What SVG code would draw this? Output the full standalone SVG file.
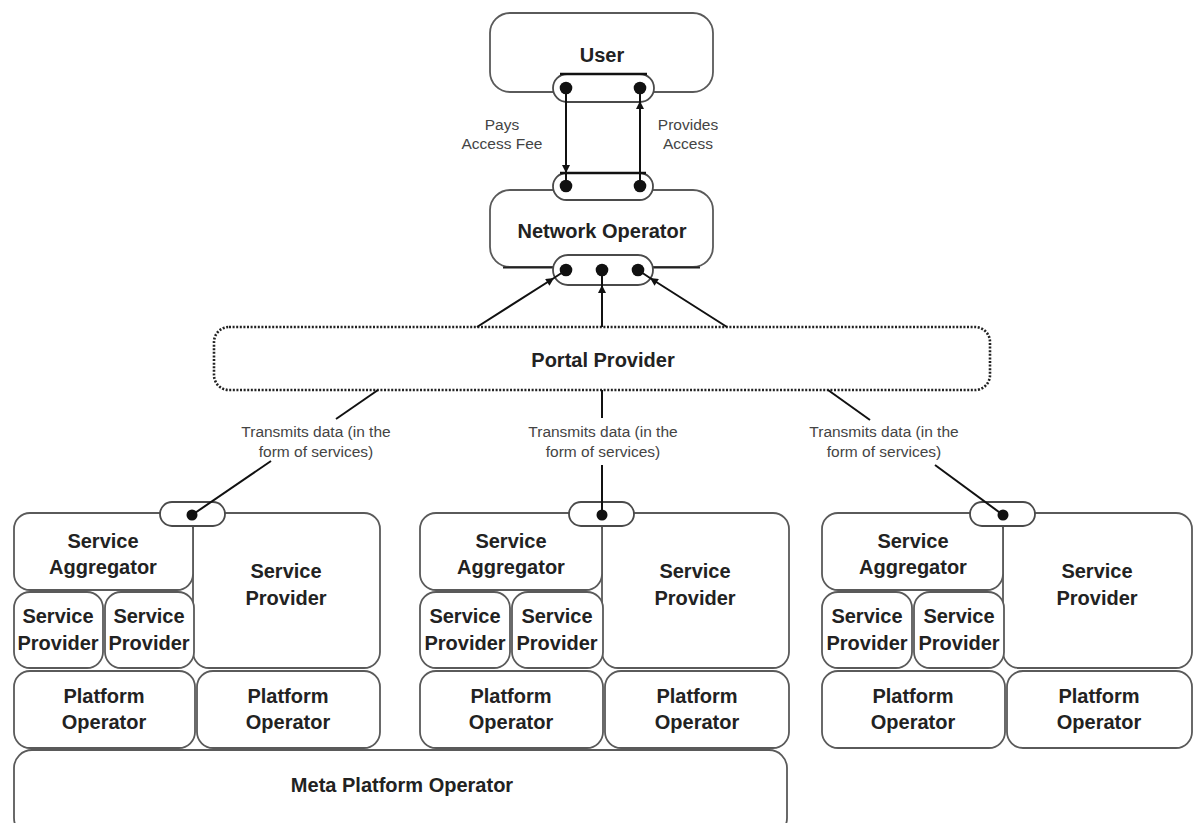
<svg xmlns="http://www.w3.org/2000/svg" width="1197" height="823" viewBox="0 0 1197 823">
  <style>
    .box { fill: #fff; stroke: #5a5a5a; stroke-width: 1.8; }
    .pill { fill: #fff; stroke: #4a4a4a; stroke-width: 1.8; }
    .dotted { fill: #fff; stroke: #222; stroke-width: 2.6; stroke-dasharray: 2 1.6; }
    .dot { fill: #111; }
    .wire { fill: none; stroke: #111; stroke-width: 2; }
    .t { font-family: "Liberation Sans", Arial, sans-serif; font-weight: bold; font-size: 20px; fill: #222; text-anchor: middle; }
    .lbl { font-family: "Liberation Sans", Arial, sans-serif; font-size: 15.5px; fill: #444; text-anchor: middle; }
  </style>
  <defs>
    <marker id="head" viewBox="0 0 10 10" refX="10" refY="5" markerUnits="userSpaceOnUse" markerWidth="10" markerHeight="8" orient="auto">
      <path d="M0,0 L10,5 L0,10 z" fill="#111"/>
    </marker>
  </defs>

  <rect width="1197" height="823" fill="#fff"/>

  <!-- User -->
  <g id="user">
    <rect class="box" x="490" y="13" width="223" height="79" rx="20"/>
    <text class="t" x="602" y="62">User</text>
    <rect class="pill" x="553" y="74" width="101" height="28" rx="14"/>
    <line x1="560" y1="74" x2="647" y2="74" stroke="#111" stroke-width="2.4"/>
    <circle class="dot" cx="566" cy="88" r="6.3"/>
    <circle class="dot" cx="640" cy="88" r="6.3"/>
  </g>

  <!-- Network Operator -->
  <g id="network-operator">
    <rect class="box" x="490" y="190" width="223" height="77" rx="20"/>
    <line x1="503" y1="267.5" x2="700" y2="267.5" stroke="#222" stroke-width="2"/>
    <text class="t" x="602" y="238">Network Operator</text>
    <rect class="pill" x="553" y="173" width="100" height="27" rx="13.5"/>
    <line x1="560" y1="173" x2="646" y2="173" stroke="#111" stroke-width="2.4"/>
    <circle class="dot" cx="566" cy="186" r="6.3"/>
    <circle class="dot" cx="640" cy="186" r="6.3"/>
    <rect class="pill" x="553" y="255" width="100" height="30" rx="15"/>
    <circle class="dot" cx="566" cy="270" r="6.3"/>
    <circle class="dot" cx="602" cy="270" r="6.3"/>
    <circle class="dot" cx="638" cy="270" r="6.3"/>
  </g>

  <!-- Portal Provider -->
  <g id="portal-provider">
    <rect class="dotted" x="214" y="327" width="776" height="63" rx="15"/>
    <text class="t" x="603" y="367">Portal Provider</text>
  </g>

  <!-- Left cluster -->
  <g id="cluster-left" transform="translate(12,0)">
    <g id="sp-big-1"><rect class="box" x="181" y="513" width="187" height="155" rx="16"/>
      <text class="t" x="274" y="578">Service</text><text class="t" x="274" y="605">Provider</text></g>
    <g id="sa-1"><rect class="box" x="2" y="513" width="179" height="77" rx="16"/>
      <text class="t" x="91" y="548">Service</text><text class="t" x="91" y="574">Aggregator</text></g>
    <g id="sp-a-1"><rect class="box" x="2" y="592" width="89" height="76" rx="16"/>
      <text class="t" x="46" y="623">Service</text><text class="t" x="46" y="650">Provider</text></g>
    <g id="sp-b-1"><rect class="box" x="93" y="592" width="89" height="76" rx="16"/>
      <text class="t" x="137" y="623">Service</text><text class="t" x="137" y="650">Provider</text></g>
    <g id="po-a-1"><rect class="box" x="2" y="671" width="181" height="77" rx="16"/>
      <text class="t" x="92" y="703">Platform</text><text class="t" x="92" y="729">Operator</text></g>
    <g id="po-b-1"><rect class="box" x="185" y="671" width="183" height="77" rx="16"/>
      <text class="t" x="276" y="703">Platform</text><text class="t" x="276" y="729">Operator</text></g>
    <g id="port-1"><rect class="pill" x="148" y="502" width="65" height="24" rx="12"/>
      <circle class="dot" cx="180" cy="515" r="5.5"/></g>
  </g>

  <!-- Middle cluster -->
  <g id="cluster-middle" transform="translate(421,0)">
    <g id="sp-big-2"><rect class="box" x="181" y="513" width="187" height="155" rx="16"/>
      <text class="t" x="274" y="578">Service</text><text class="t" x="274" y="605">Provider</text></g>
    <g id="sa-2"><rect class="box" x="-1" y="513" width="182" height="77" rx="16"/>
      <text class="t" x="90" y="548">Service</text><text class="t" x="90" y="574">Aggregator</text></g>
    <g id="sp-a-2"><rect class="box" x="-1" y="592" width="90" height="76" rx="16"/>
      <text class="t" x="44" y="623">Service</text><text class="t" x="44" y="650">Provider</text></g>
    <g id="sp-b-2"><rect class="box" x="91" y="592" width="91" height="76" rx="16"/>
      <text class="t" x="136" y="623">Service</text><text class="t" x="136" y="650">Provider</text></g>
    <g id="po-a-2"><rect class="box" x="-1" y="671" width="183" height="77" rx="16"/>
      <text class="t" x="90" y="703">Platform</text><text class="t" x="90" y="729">Operator</text></g>
    <g id="po-b-2"><rect class="box" x="184" y="671" width="184" height="77" rx="16"/>
      <text class="t" x="276" y="703">Platform</text><text class="t" x="276" y="729">Operator</text></g>
    <g id="port-2"><rect class="pill" x="148" y="502" width="65" height="24" rx="12"/>
      <circle class="dot" cx="181" cy="515" r="5.5"/></g>
  </g>

  <!-- Right cluster -->
  <g id="cluster-right" transform="translate(822,0)">
    <g id="sp-big-3"><rect class="box" x="181" y="513" width="189" height="155" rx="16"/>
      <text class="t" x="275" y="578">Service</text><text class="t" x="275" y="605">Provider</text></g>
    <g id="sa-3"><rect class="box" x="0" y="513" width="181" height="77" rx="16"/>
      <text class="t" x="91" y="548">Service</text><text class="t" x="91" y="574">Aggregator</text></g>
    <g id="sp-a-3"><rect class="box" x="0" y="592" width="90" height="76" rx="16"/>
      <text class="t" x="45" y="623">Service</text><text class="t" x="45" y="650">Provider</text></g>
    <g id="sp-b-3"><rect class="box" x="92" y="592" width="90" height="76" rx="16"/>
      <text class="t" x="137" y="623">Service</text><text class="t" x="137" y="650">Provider</text></g>
    <g id="po-a-3"><rect class="box" x="0" y="671" width="183" height="77" rx="16"/>
      <text class="t" x="91" y="703">Platform</text><text class="t" x="91" y="729">Operator</text></g>
    <g id="po-b-3"><rect class="box" x="185" y="671" width="185" height="77" rx="16"/>
      <text class="t" x="277" y="703">Platform</text><text class="t" x="277" y="729">Operator</text></g>
    <g id="port-3"><rect class="pill" x="148" y="502" width="65" height="24" rx="12"/>
      <circle class="dot" cx="181" cy="515" r="5.5"/></g>
  </g>

  <!-- Meta Platform Operator -->
  <g id="meta-platform-operator">
    <rect class="box" x="14" y="750" width="773" height="86" rx="18"/>
    <text class="t" x="402" y="792">Meta Platform Operator</text>
  </g>

  <!-- Connectors -->
  <g id="connectors">
    <path class="wire" d="M566,88 L566,173 L566,186" marker-mid="url(#head)"/>
    <path class="wire" d="M640,186 L640,101 L640,88" marker-mid="url(#head)"/>
    <path class="wire" d="M477,327 L554,278 L566,270" marker-mid="url(#head)"/>
    <path class="wire" d="M602,327 L602,285 L602,270" marker-mid="url(#head)"/>
    <path class="wire" d="M727,327 L650,278 L638,270" marker-mid="url(#head)"/>

    <line class="wire" x1="378" y1="390" x2="336" y2="419"/>
    <line class="wire" x1="271" y1="461" x2="192" y2="515"/>
    <line class="wire" x1="602" y1="390" x2="602" y2="418"/>
    <line class="wire" x1="602" y1="465" x2="602" y2="515"/>
    <line class="wire" x1="828" y1="390" x2="870" y2="420"/>
    <line class="wire" x1="935" y1="465" x2="1003" y2="515"/>

    <g id="connector-labels">
      <text class="lbl" x="502" y="130">Pays</text>
      <text class="lbl" x="502" y="149">Access Fee</text>
      <text class="lbl" x="688" y="130">Provides</text>
      <text class="lbl" x="688" y="149">Access</text>
      <text class="lbl" x="316" y="437">Transmits data (in the</text>
      <text class="lbl" x="316" y="457">form of services)</text>
      <text class="lbl" x="603" y="437">Transmits data (in the</text>
      <text class="lbl" x="603" y="457">form of services)</text>
      <text class="lbl" x="884" y="437">Transmits data (in the</text>
      <text class="lbl" x="884" y="457">form of services)</text>
    </g>
  </g>
</svg>
